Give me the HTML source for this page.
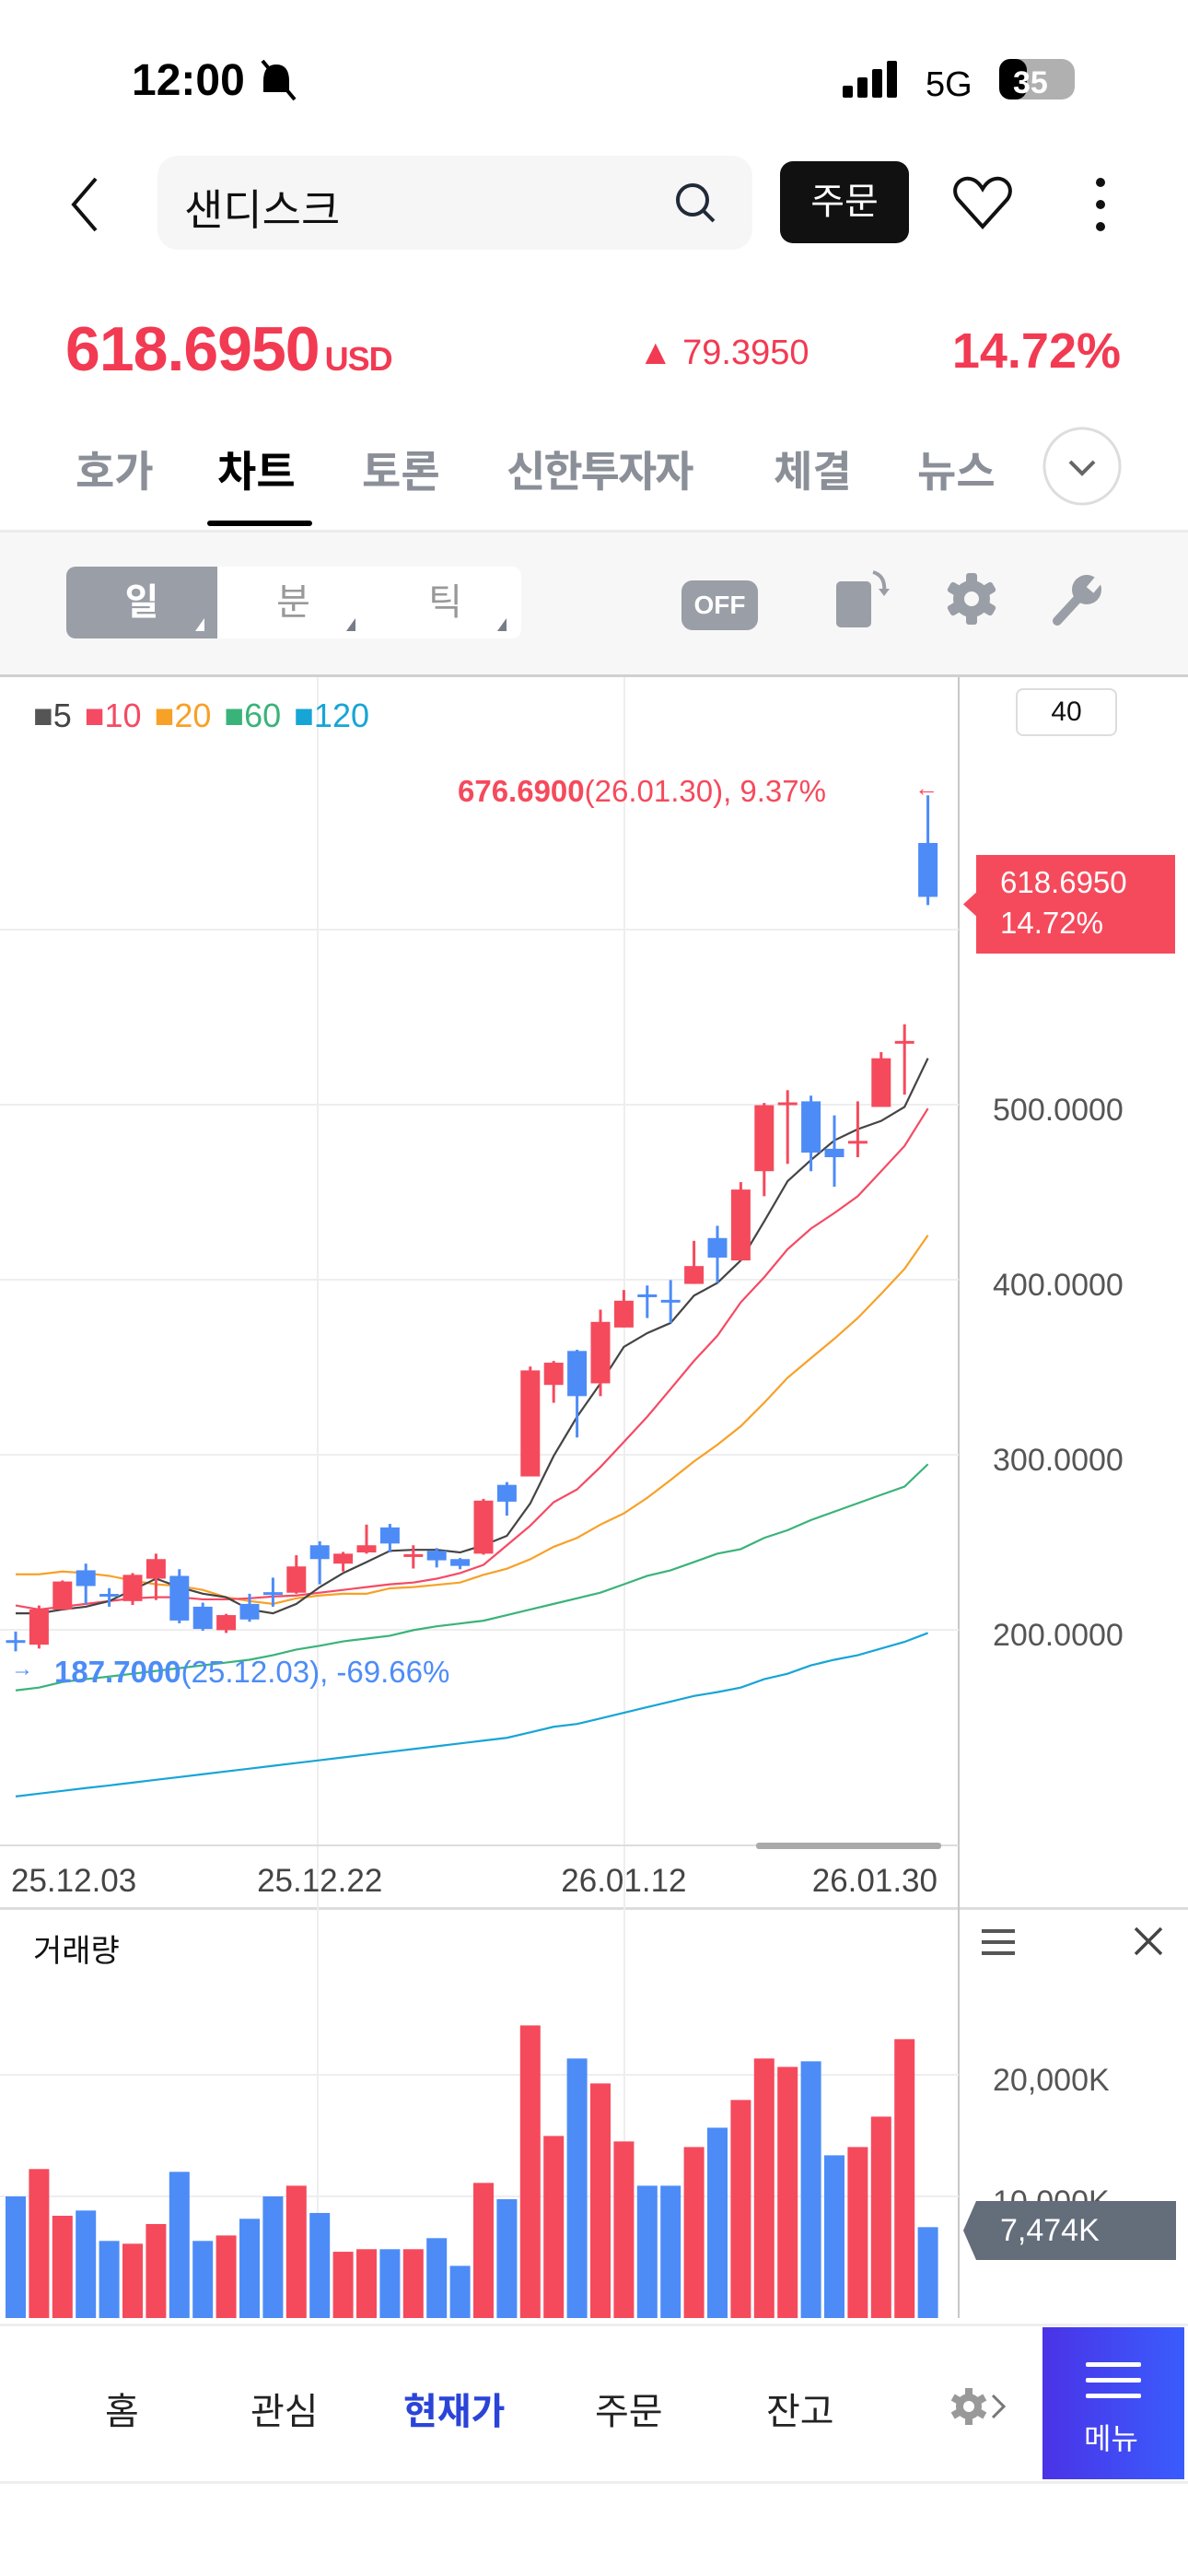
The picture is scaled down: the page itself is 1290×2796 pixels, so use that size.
<!DOCTYPE html>
<html><head><meta charset="utf-8">
<style>
*{margin:0;padding:0;box-sizing:border-box}
body{width:1290px;height:2796px;background:#fff;font-family:"Liberation Sans","Noto Sans CJK KR",sans-serif;position:relative;overflow:hidden}
.a{position:absolute;white-space:nowrap}
</style></head>
<body>
<div class="a" style="left:143px;top:60px;font-size:48px;font-weight:bold;color:#000">12:00</div>
<svg class="a" style="left:0;top:0" width="1290" height="130">
 <g fill="#000"><rect x="915" y="93" width="11" height="13" rx="2"/><rect x="931" y="84" width="11" height="22" rx="2"/><rect x="947" y="75" width="11" height="31" rx="2"/><rect x="963" y="66" width="11" height="40" rx="2"/></g>
 <text x="1005" y="104" font-size="38" font-family="Liberation Sans" fill="#000">5G</text>
 <rect x="1085" y="64" width="82" height="44" rx="14" fill="#b0b0b0"/><rect x="1085" y="64" width="30" height="44" rx="12" fill="#000"/>
 <text x="1100" y="101" font-size="34" font-weight="bold" fill="#fff">35</text>
 <path d="M300 70 q14 0 14 18 v12 h6 l-40 0 h6 v-12 q0-18 14-18z" fill="#000"/><line x1="285" y1="66" x2="320" y2="108" stroke="#000" stroke-width="4"/>
</svg>
<svg class="a" style="left:72px;top:190px" width="40" height="64"><path d="M32 4 L8 32 L32 60" fill="none" stroke="#111" stroke-width="4"/></svg>
<div class="a" style="left:171px;top:169px;width:646px;height:102px;background:#f6f6f7;border-radius:22px"></div>
<div class="a" style="left:200px;top:192px;font-size:46px;color:#111">샌디스크</div>
<svg class="a" style="left:730px;top:195px" width="50" height="50"><circle cx="22" cy="22" r="16" fill="none" stroke="#222a3a" stroke-width="4"/><line x1="34" y1="34" x2="45" y2="45" stroke="#222a3a" stroke-width="4"/></svg>
<div class="a" style="left:847px;top:175px;width:140px;height:89px;background:#111;border-radius:14px;color:#fff;font-size:40px;text-align:center;line-height:89px">주문</div>
<svg class="a" style="left:1034px;top:190px" width="66" height="60"><path d="M33 56 L6 26 C-2 14 8 2 19 4 C26 5 30 10 33 15 C36 10 40 5 47 4 C58 2 68 14 60 26 Z" fill="none" stroke="#111" stroke-width="4"/></svg>
<svg class="a" style="left:1180px;top:190px" width="30" height="64"><circle cx="15" cy="8" r="5" fill="#111"/><circle cx="15" cy="32" r="5" fill="#111"/><circle cx="15" cy="56" r="5" fill="#111"/></svg>

<div class="a" style="left:71px;top:340px;font-size:68px;font-weight:bold;color:#f23a52;letter-spacing:-1px">618.6950<span style="font-size:36px;margin-left:6px">USD</span></div>
<div class="a" style="left:693px;top:362px;font-size:38px;color:#f23a52">▲ 79.3950</div>
<div class="a" style="right:73px;top:350px;font-size:54px;font-weight:bold;color:#f23a52">14.72%</div>

<div>
<div class="a" style="left:82px;top:476px;font-size:46px;color:#8a8f98;font-weight:bold">호가</div>
<div class="a" style="left:236px;top:476px;font-size:46px;color:#000;font-weight:bold">차트</div>
<div class="a" style="left:225px;top:565px;width:114px;height:6px;background:#000;border-radius:3px"></div>
<div class="a" style="left:393px;top:476px;font-size:46px;color:#8a8f98;font-weight:bold">토론</div>
<div class="a" style="left:550px;top:476px;font-size:46px;color:#8a8f98;font-weight:bold;letter-spacing:-2px">신한투자자</div>
<div class="a" style="left:840px;top:476px;font-size:46px;color:#8a8f98;font-weight:bold">체결</div>
<div class="a" style="left:996px;top:476px;font-size:46px;color:#8a8f98;font-weight:bold">뉴스</div>
<svg class="a" style="left:1132px;top:463px" width="86" height="86"><circle cx="43" cy="43" r="41" fill="#fff" stroke="#ddd" stroke-width="3"/><path d="M30 38 L43 51 L56 38" fill="none" stroke="#666" stroke-width="4"/></svg>
</div>

<div class="a" style="left:0;top:575px;width:1290px;height:160px;background:#f7f7f7;border-top:3px solid #ececec;border-bottom:3px solid #d0d0d0"></div>
<div class="a" style="left:72px;top:615px;width:494px;height:78px;background:#fff;border-radius:10px;overflow:hidden">
 <div class="a" style="left:0;top:0;width:164px;height:78px;background:#9a9ea6;color:#fff;font-size:40px;font-weight:bold;text-align:center;line-height:78px">일</div>
 <div class="a" style="left:164px;top:0;width:165px;height:78px;color:#999;font-size:40px;text-align:center;line-height:78px">분</div>
 <div class="a" style="left:329px;top:0;width:165px;height:78px;color:#999;font-size:40px;text-align:center;line-height:78px">틱</div>
 <svg class="a" style="left:0;top:0" width="494" height="78"><path d="M150 70 L150 56 L140 70Z" fill="#fff"/><path d="M314 70 L314 56 L304 70Z" fill="#777c86"/><path d="M478 70 L478 56 L468 70Z" fill="#777c86"/></svg>
</div>
<div class="a" style="left:740px;top:630px;width:83px;height:54px;background:#9a9ea6;border-radius:12px;color:#fff;font-size:28px;font-weight:bold;text-align:center;line-height:54px">OFF</div>
<svg class="a" style="left:900px;top:615px" width="70" height="70"><rect x="8" y="16" width="38" height="50" rx="5" fill="#9a9ea6"/><path d="M48 6 q14 4 12 22" fill="none" stroke="#9a9ea6" stroke-width="4"/><path d="M54 24 l6 8 l6 -8z" fill="#9a9ea6"/></svg>
<svg class="a" style="left:1025px;top:620px" width="60" height="60"><g fill="#9a9ea6"><circle cx="30" cy="30" r="20"/><rect x="24" y="2" width="12" height="56" rx="3"/><rect x="24" y="2" width="12" height="56" rx="3" transform="rotate(60 30 30)"/><rect x="24" y="2" width="12" height="56" rx="3" transform="rotate(120 30 30)"/></g><circle cx="30" cy="30" r="8" fill="#f7f7f7"/></svg>
<svg class="a" style="left:1140px;top:620px" width="60" height="60"><path d="M8 54 L32 28" stroke="#9a9ea6" stroke-width="10" stroke-linecap="round"/><circle cx="40" cy="20" r="16" fill="#9a9ea6"/><rect x="38" y="4" width="10" height="14" fill="#f7f7f7" transform="rotate(40 40 20)"/></svg>

<svg class="a" id="chart" style="left:0;top:0" width="1290" height="2796"></svg>

<div class="a" style="left:36px;top:756px;font-size:36px;word-spacing:4px">
 <span style="color:#555">■</span><span style="color:#444">5 </span><span style="color:#f54a64">■10 </span><span style="color:#f7a127">■20 </span><span style="color:#3ab37a">■60 </span><span style="color:#17a5d6">■120</span>
</div>
<div class="a" style="left:1103px;top:747px;width:110px;height:52px;border:2px solid #ddd;border-radius:8px;font-size:30px;text-align:center;line-height:48px;color:#111">40</div>
<div class="a" style="left:497px;top:840px;font-size:33px;color:#f54a5c"><b>676.6900</b>(26.01.30), 9.37%</div>
<div class="a" style="left:993px;top:840px;font-size:26px;color:#f54a5c">←</div>
<div class="a" style="left:59px;top:1796px;font-size:33px;color:#4d8cf7"><b>187.7000</b>(25.12.03), -69.66%</div>
<div class="a" style="left:12px;top:1798px;font-size:24px;color:#4d8cf7">→</div>
<div class="a" style="left:1046px;top:928px;width:230px;height:107px;background:#f54a5c;clip-path:polygon(14px 0,100% 0,100% 100%,14px 100%,14px 62%,0 50%,14px 38%);color:#fff;font-size:33px;line-height:44px;padding:8px 0 0 40px">618.6950<br>14.72%</div>

<div class="a" style="left:36px;top:2090px;font-size:34px;color:#111">거래량</div>
<svg class="a" style="left:1066px;top:2090px" width="36" height="36"><g fill="#555"><rect y="4" width="36" height="4"/><rect y="16" width="36" height="4"/><rect y="28" width="36" height="4"/></g></svg>
<svg class="a" style="left:1230px;top:2090px" width="34" height="34"><path d="M3 3L31 31M31 3L3 31" stroke="#444" stroke-width="3.5"/></svg>
<div class="a" style="left:1046px;top:2389px;width:231px;height:64px;background:#646d7a;clip-path:polygon(14px 0,100% 0,100% 100%,14px 100%,0 50%);color:#fff;font-size:34px;line-height:64px;padding-left:40px">7,474K</div>

<div class="a" style="left:0;top:2522px;width:1290px;height:174px;border-top:3px solid #eee;border-bottom:3px solid #eee;background:#fff"></div>
<div class="a" style="left:114px;top:2585px;font-size:40px;color:#222">홈</div>
<div class="a" style="left:272px;top:2585px;font-size:40px;color:#222">관심</div>
<div class="a" style="left:438px;top:2585px;font-size:40px;color:#2b44d8;font-weight:bold">현재가</div>
<div class="a" style="left:646px;top:2585px;font-size:40px;color:#222">주문</div>
<div class="a" style="left:832px;top:2585px;font-size:40px;color:#222">잔고</div>
<svg class="a" style="left:1030px;top:2590px" width="70" height="44"><g fill="#999"><circle cx="22" cy="22" r="14"/><rect x="18" y="2" width="8" height="40"/><rect x="18" y="2" width="8" height="40" transform="rotate(60 22 22)"/><rect x="18" y="2" width="8" height="40" transform="rotate(120 22 22)"/></g><circle cx="22" cy="22" r="6" fill="#fff"/><path d="M48 10 L60 22 L48 34" fill="none" stroke="#777" stroke-width="3"/></svg>
<div class="a" style="left:1132px;top:2526px;width:154px;height:165px;background:linear-gradient(90deg,#4a33e6,#3a5cfd)">
 <svg class="a" style="left:47px;top:36px" width="60" height="44"><g fill="#fff"><rect y="2" width="60" height="5" rx="2"/><rect y="19" width="60" height="5" rx="2"/><rect y="36" width="60" height="5" rx="2"/></g></svg>
 <div class="a" style="left:45px;top:96px;font-size:32px;color:#fff">메뉴</div>
</div>

<script>
const opens  =[194.1,191.5,211.6,234,220.5,216.4,229.2,230.8,213.2,199.8,214.8,221.5,221.2,248.3,237.8,244.2,258.5,242.2,245.1,240.4,243.5,282.8,287.6,339.9,359.3,340.8,372.7,391.6,388.5,397.6,423.8,411,462,500.3,501.9,474.8,478.7,498.7,535.6,649.5];
const closes =[193.4,211.6,227.6,225,219.5,231.4,240.4,205.3,200.5,208.4,205.9,220.8,236.2,240.4,243.5,248.3,249.3,243.2,239.7,236.5,273.8,273.2,348.2,352.6,333.5,375.9,388,390.5,387.4,407.8,412.6,451.5,499.7,501.3,472.6,470,479.3,526.5,536.4,618.7];
const highs  =[199,213.9,228.2,237.8,223.8,232.4,243.5,234.6,215.5,209.1,220.6,229.8,242.6,250.6,244.5,260.1,260.5,248.3,246.7,241,274.8,284.4,350.4,353.6,360,382.9,394.1,396.7,399.8,422.2,430.8,455.7,501,508.3,505.1,493.9,501.9,530,545.9,676.7];
const lows   =[187.7,189.3,211.6,214.8,213.2,214.2,217,203.7,199.5,198.2,204.6,213.2,220.6,226,233.3,243.5,244.2,235,235.6,234.6,242.9,265.2,287.6,329.7,309.9,333.5,372.7,378.1,375.2,397.6,398.2,411,447.7,466.2,462,453.1,470,498.7,505.7,614];
const upFlags=[0,1,1,0,0,1,1,0,0,1,0,0,1,0,1,1,0,1,0,0,1,0,1,1,0,1,1,0,0,1,0,1,1,1,0,0,1,1,1,0];
const ma5  =[209.4,209.4,211.6,213.2,216.4,222.8,229.2,224.4,220.6,218.6,211.6,209.4,214.8,224.4,232.4,238.7,245.1,245.7,245.7,244.2,248.3,253.7,272.2,299.3,321.7,340.8,361.6,369.5,375.3,390.9,398.2,411,433.3,456.3,468.4,479.6,486,490.7,498.7,526.5];
const ma10 =[213.9,211.6,213.2,214.8,216.4,218,218.6,218.6,217.4,217.4,218,219,219.6,221.2,222.8,224.4,226,227,229.2,232.4,237.1,248.3,259.5,272.9,280.2,293,307.3,321.7,337.6,353.6,368,387.1,401.4,417.4,429.2,438.1,447.7,462,476.4,497.8];
const ma20 =[231.7,231.7,233.3,232.4,230.8,228.2,226,225,222.8,218.6,216.4,214.8,218,219.6,220.6,220.6,223.7,224.4,225.7,227,231.4,234.9,240.3,247.4,252.5,260.1,266.5,275.4,285.6,296.2,305.7,316.3,329.7,344,355.2,366.3,378.1,391.9,406.2,425.4];
const ma60 =[165.4,167,170.2,171.8,173.3,174.9,176.5,178.1,179.7,181.3,182.9,185.5,188.7,190.9,193.4,195,196.6,199.8,202,203.6,205.2,208.4,211.6,214.8,218,221.2,226,230.8,234,238.7,243.5,246.1,252.5,256.9,262.7,267.5,272.3,277.1,281.8,294.6];
const ma120=[104.8,106.4,108,109.6,111.1,112.7,114.3,115.9,117.5,119.1,120.7,122.3,123.9,125.5,127.1,128.7,130.3,131.9,133.5,135.1,136.7,138.3,141.4,144.6,146.2,149.4,152.6,155.8,159,162.2,164.4,167,171.8,174.9,179.7,182.9,185.5,189.3,193.1,198.2];
const volumes=[10000,12250,8410,8840,6340,6110,7730,12020,6340,6790,8160,10000,10880,8640,5450,5660,5660,5660,6570,4290,11110,9770,24060,14970,21340,19290,14520,10880,10880,14060,15650,17930,21340,20650,21110,13380,14060,16560,22930,7474];
const priceTicks=[200,300,400,500,600];
const priceTickLabels=["200.0000","300.0000","400.0000","500.0000",""];
const volTicks=[10000,20000];
const volTickLabels=["10,000K","20,000K"];
const dateIdx=[0,13,26,39];
const dateLabels=["25.12.03","25.12.22","26.01.12","26.01.30"];

const NS="http://www.w3.org/2000/svg";
const svg=document.getElementById('chart');
const X=i=>17+25.4*i;
const Y=p=>1199-(p-500)*1.9;
const VY=v=>2516-v*0.0132;
const RED="#f54a5c",BLUE="#4d8cf7";
function mk(tag,at){const e=document.createElementNS(NS,tag);for(const k in at)e.setAttribute(k,at[k]);svg.appendChild(e);return e;}
let e;
e=mk('rect',{x:0,y:2070,width:1290,height:3,fill:'#ddd'});


e=mk('line',{x1:1041,y1:735,x2:1041,y2:2516,stroke:'#c8c8c8','stroke-width':2});


[345,678].forEach(x=>{e=mk('line',{x1:x,y1:735,x2:x,y2:2516,stroke:'#eee','stroke-width':2});

});
e=mk('line',{x1:0,y1:2003,x2:1041,y2:2003,stroke:'#ddd','stroke-width':2});


e=mk('rect',{x:821,y:2000,width:201,height:7,rx:3,fill:'#aaa'});


priceTicks.forEach((p,i)=>{
 e=mk('line',{x1:0,y1:Y(p),x2:1041,y2:Y(p),stroke:'#eee','stroke-width':2});
 
 
 if(priceTickLabels[i]){e=mk('text',{x:1078,y:Y(p)+17,'font-size':34,fill:'#555','font-family':'Liberation Sans'});e.textContent=priceTickLabels[i];
 
 }
});
volTicks.forEach((v,i)=>{
 e=mk('line',{x1:0,y1:VY(v),x2:1041,y2:VY(v),stroke:'#eee','stroke-width':2});
 
 
 e=mk('text',{x:1078,y:VY(v)+17,'font-size':34,fill:'#555','font-family':'Liberation Sans'});e.textContent=volTickLabels[i];
 
 
});
dateIdx.forEach((d,i)=>{
 e=mk('text',{x:X(d),y:2053,'font-size':35,fill:'#444','text-anchor':'middle','font-family':'Liberation Sans'});e.textContent=dateLabels[i];
 if(i===0){e.setAttribute('x',12);e.setAttribute('text-anchor','start');}
 if(i===dateIdx.length-1){e.setAttribute('x',1018);e.setAttribute('text-anchor','end');}
 
 
});
[[ma120,'#17a5d6'],[ma60,'#3ab37a'],[ma20,'#f7a127'],[ma10,'#f54a64'],[ma5,'#444']].forEach(([arr,c],k)=>{
 e=mk('polyline',{points:arr.map((v,i)=>X(i)+','+Y(v)).join(' '),fill:'none',stroke:c,'stroke-width':2.2});
 
 
});
opens.forEach((o,i)=>{
 const c=closes[i],col=upFlags[i]?RED:BLUE;
 e=mk('line',{x1:X(i),y1:Y(highs[i]),x2:X(i),y2:Y(lows[i]),stroke:col,'stroke-width':3});
 
 
 const t=Math.min(Y(o),Y(c)),h=Math.max(3,Math.abs(Y(o)-Y(c)));
 e=mk('rect',{x:X(i)-10.5,y:t,width:21,height:h,fill:col});
 
 
 e=mk('rect',{x:X(i)-11,y:VY(volumes[i]),width:22,height:2516-VY(volumes[i]),fill:col});
 
 
});
</script>
</body></html>
